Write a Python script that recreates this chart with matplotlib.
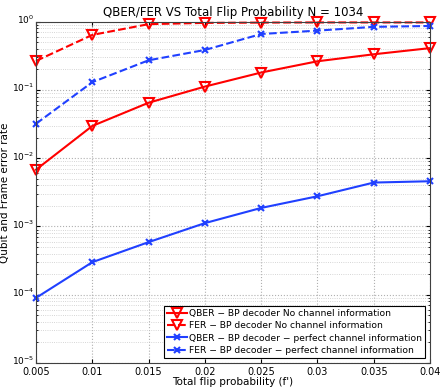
import matplotlib
matplotlib.use('Agg')
import matplotlib.pyplot as plt
import matplotlib.transforms as mtransforms
import numpy as np
from matplotlib.ticker import LogLocator, NullFormatter, FixedLocator

# flip probability
flip_p = [0.005, 0.01, 0.015, 0.02, 0.025, 0.03, 0.035, 0.04]
xtick_labels = ['0.005', '0.01', '0.015', '0.02', '0.025', '0.03', '0.035', '0.04']

# no channel information
qber_nochan = [0.0068, 0.0297, 0.065, 0.112, 0.18, 0.263, 0.333, 0.41]
fer_nochan = [0.266, 0.64, 0.92, 0.96, 0.97, 0.975, 0.975, 0.975]

# perfect channel information
qber_perfect = [0.9e-4, 3.0e-4, 5.9e-4, 1.12e-3, 1.87e-3, 2.77e-3, 4.4e-3, 4.6e-3]
fer_perfect = [0.032, 0.13, 0.272, 0.385, 0.66, 0.74, 0.84, 0.865]

red = '#ff0000'
blue = '#2040ff'

plt.rcParams['font.family'] = ['DejaVu Sans']
fig = plt.figure(figsize=(4.43, 3.9), dpi=100)
ax = fig.add_axes([0.0813, 0.0692, 0.8894, 0.8752])

ax.semilogy(flip_p, qber_nochan, '-', color=red, lw=1.5, marker='v', ms=7,
            mfc='none', mew=1.5, clip_on=False,
            label='QBER \u2212 BP decoder No channel information')
ax.semilogy(flip_p, fer_nochan, '--', color=red, lw=1.5, marker='v', ms=7,
            mfc='none', mew=1.5, clip_on=False,
            label='FER \u2212 BP decoder No channel information')
ax.semilogy(flip_p, qber_perfect, '-', color=blue, lw=1.5, marker='x', ms=5,
            mew=1.5, clip_on=False,
            label='QBER \u2212 BP decoder \u2212 perfect channel information')
ax.semilogy(flip_p, fer_perfect, '--', color=blue, lw=1.5, marker='x', ms=5,
            mew=1.5, clip_on=False,
            label='FER \u2212 BP decoder \u2212 perfect channel information')

ax.set_xlim(0.005, 0.04)
ax.set_ylim(1e-5, 1)
ax.xaxis.set_major_locator(FixedLocator(flip_p))
ax.set_xticklabels(xtick_labels)
ax.yaxis.set_major_locator(LogLocator(base=10, numticks=10))
ax.yaxis.set_minor_locator(LogLocator(base=10, subs=np.arange(2, 10), numticks=20))
ax.yaxis.set_minor_formatter(NullFormatter())

ax.grid(True, which='major', linestyle=':', color='#b0b0b0', lw=0.8)
ax.grid(True, which='minor', axis='y', linestyle=':', color='#c8c8c8', lw=0.6)
ax.tick_params(which='both', direction='in', top=True, right=True, labelsize=7)
ax.tick_params(axis='x', pad=3)
ax.tick_params(axis='y', labelsize=6.5, pad=1)
ax.tick_params(which='major', length=3)
ax.tick_params(which='minor', length=1.5)
for s in ax.spines.values():
    s.set_color('#404040')
    s.set_linewidth(0.8)

# nudge y tick labels up a little, like the matlab export
shift = mtransforms.ScaledTranslation(0, 2 / 72, fig.dpi_scale_trans)
for lbl in ax.get_yticklabels():
    lbl.set_transform(lbl.get_transform() + shift)

ax.set_title('QBER/FER VS Total Flip Probability N = 1034', fontsize=8.5, pad=4)
ax.set_xlabel("Total flip probability (f')", fontsize=7.5, labelpad=0)
ax.set_ylabel('Qubit and Frame error rate', fontsize=7.5)
ax.yaxis.set_label_coords(-0.066, 0.5)

leg = ax.legend(loc='lower right', fontsize=6.6, handlelength=2.2, handletextpad=0.2,
                borderpad=0.3, labelspacing=0.35, fancybox=False, framealpha=1,
                edgecolor='black', borderaxespad=0.6)
leg.get_frame().set_linewidth(0.8)

fig.savefig('out.png', dpi=100)
